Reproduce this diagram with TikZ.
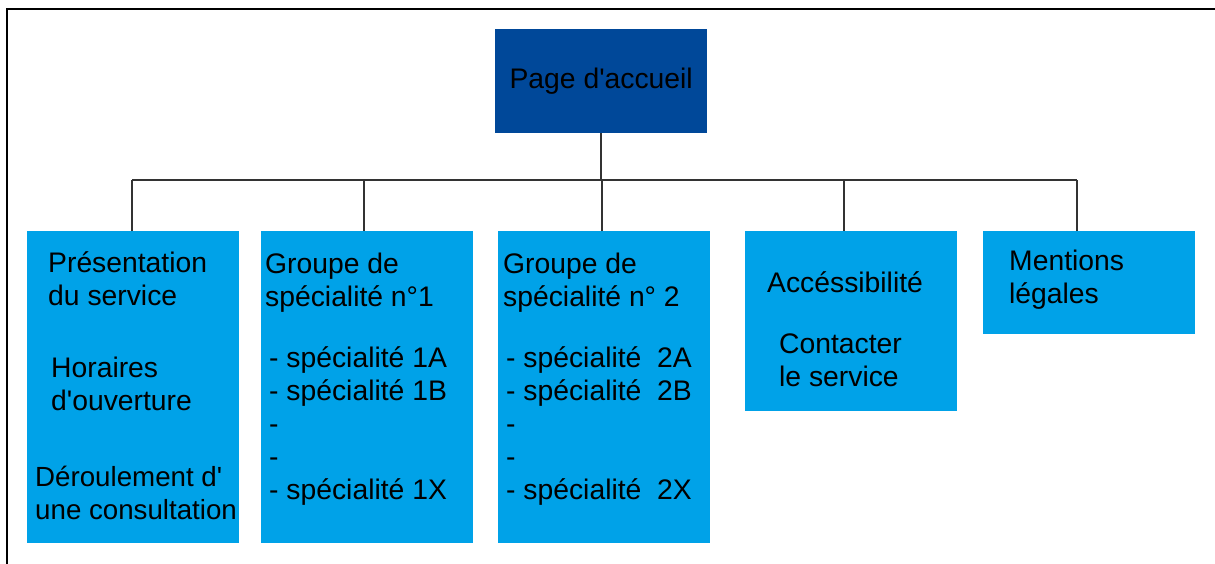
\documentclass[tikz,border=0pt]{standalone}
\usepackage{fontspec}
\setmainfont{Liberation Sans}

\definecolor{rootblue}{RGB}{0,72,153}
\definecolor{boxblue}{RGB}{0,162,232}
\definecolor{linegray}{RGB}{51,51,51}

\newcommand{\apos}{\textquotesingle}

\begin{document}
\begin{tikzpicture}[x=1pt,y=-1pt,
    box/.style={fill=boxblue, inner sep=0pt, anchor=north west, minimum width=212pt},
    txt/.style={anchor=base west, align=left, inner sep=0pt, font=\fontsize{28.3}{33}\selectfont},
    link/.style={draw=linegray, line width=1.5pt}]

    \useasboundingbox (0,0) rectangle (1215,564);

    % frame, open at the right and the bottom
    \draw[line width=2pt] (7,564) -- (7,9) -- (1215,9);

    % top page
    \node[box, fill=rootblue, minimum height=104pt, font=\fontsize{28.3}{33}\selectfont] (root) at (495,29) {Page d\apos accueil};

    % second level
    \node[box, minimum height=312pt] (b1) at (27,231) {};
    \node[box, minimum height=312pt] (b2) at (261,231) {};
    \node[box, minimum height=312pt] (b3) at (498,231) {};
    \node[box, minimum height=180pt] (b4) at (745,231) {};
    \node[box, minimum height=103pt] (b5) at (983,231) {};

    % tree lines
    \coordinate (bus) at (0,180);
    \coordinate (t1) at ([xshift=-1pt]b1.north);
    \coordinate (t2) at ([xshift=-3pt]b2.north);
    \coordinate (t3) at ([xshift=-2pt]b3.north);
    \coordinate (t4) at ([xshift=-7pt]b4.north);
    \coordinate (t5) at ([xshift=-12pt]b5.north);
    \draw[link] (root.south) -- (root.south |- bus);
    \foreach \t in {t1,t2,t3,t4,t5}
        \draw[link] (\t) -- (\t |- bus);
    \draw[link] (t1 |- bus) -- (t5 |- bus);

    % texts (base = baseline of the last line)
    \node[txt] (service) at (48,305) {Présentation\\du service};
    \node[txt] (horaires) at (51,410) {Horaires\\d\apos ouverture};
    \node[txt, font=\fontsize{27.7}{33}\selectfont] (deroule) at (35,519) {Déroulement d\apos\\une consultation};

    \node[txt] (groupeA) at (265,306) {Groupe de\\spécialité n°1};
    \node[txt] (listeA) at (269,499) {- spécialité 1A\\- spécialité 1B\\-\\-\\- spécialité 1X};

    \node[txt] (groupeB) at (503,306) {Groupe de\\spécialité n° 2};
    \node[txt] (listeB) at (506,499) {- spécialité\ \ 2A\\- spécialité\ \ 2B\\-\\-\\- spécialité\ \ 2X};

    \node[txt] (access) at (767,292) {Accéssibilité};
    \node[txt] (contact) at (779,386) {Contacter\\le service};

    \node[txt] (mentions) at (1009,303) {Mentions\\légales};

\end{tikzpicture}
\end{document}
